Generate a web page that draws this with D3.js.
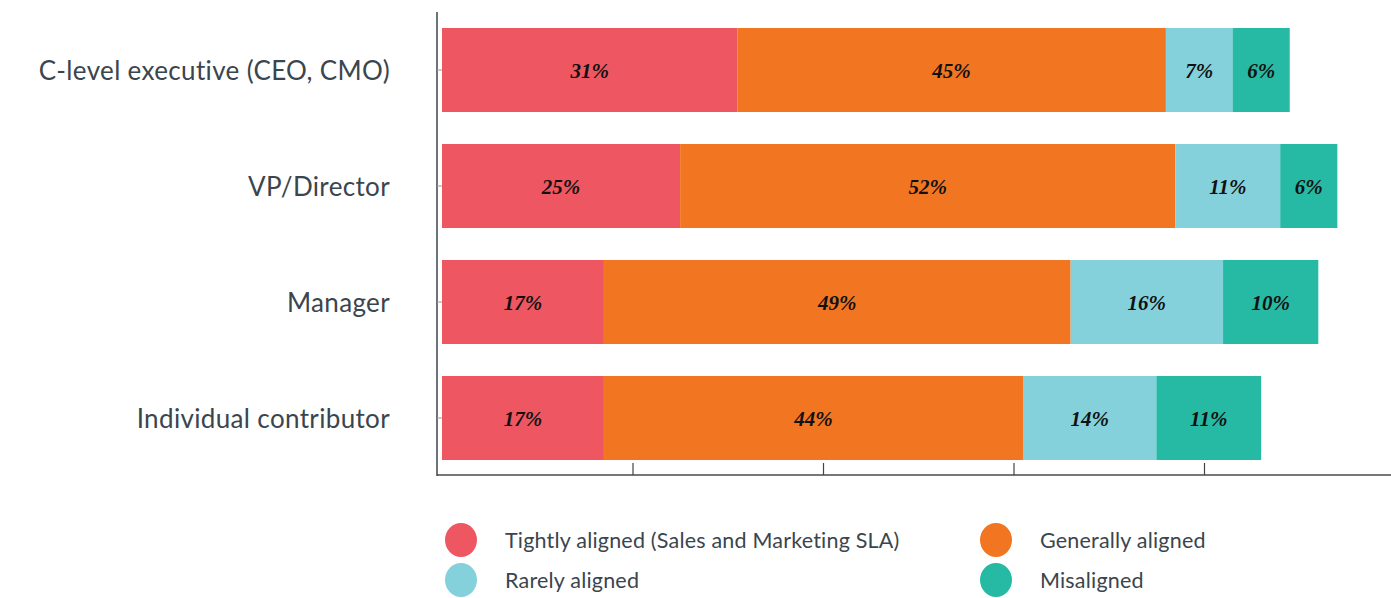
<!DOCTYPE html>
<html>
<head>
<meta charset="utf-8">
<script src="https://cdn.jsdelivr.net/npm/d3@7"></script>
<style>
  body { margin: 0; background: #fff; }
  svg { display: block; }
</style>
</head>
<body>
<svg id="chart" width="1391" height="598"></svg>
<script>
// roles, top to bottom
const roles = ['C-level executive (CEO, CMO)', 'VP/Director', 'Manager', 'Individual contributor']
const seriesNames = ['Tightly aligned (Sales and Marketing SLA)', 'Generally aligned', 'Rarely aligned', 'Misaligned']
const seriesColors = ['#ee5762', '#f27522', '#85d1db', '#26baa4']
// values in percent, one array per series (same order as roles)
const tightly = [31, 25, 17, 17]
const generally = [45, 52, 49, 44]
const rarely = [7, 11, 16, 14]
const misaligned = [6, 6, 10, 11]
const xTicks = [20, 40, 60, 80]

const series = [tightly, generally, rarely, misaligned]
const rows = roles.map((r, i) => {
  const o = { role: r }
  seriesNames.forEach((s, j) => { o[s] = series[j][i] })
  return o
})
const stacked = d3.stack().keys(seriesNames)(rows)

const svg = d3.select('#chart')
const axisLeftX = 437
const x = d3.scaleLinear().domain([0, 100]).range([442, 1394.5])
const y = d3.scaleBand().domain(roles).range([12, 476])
  .paddingInner(0.276).paddingOuter(0.138)

const textColor = '#3a454e'

// bars
const layer = svg.append('g')
  .selectAll('g')
  .data(stacked)
  .join('g')
  .attr('fill', (d, i) => seriesColors[i])

layer.selectAll('rect')
  .data(d => d)
  .join('rect')
  .attr('x', d => x(d[0]))
  .attr('y', d => y(d.data.role))
  .attr('width', d => x(d[1]) - x(d[0]))
  .attr('height', y.bandwidth())

// value labels
layer.selectAll('text')
  .data(d => d)
  .join('text')
  .attr('x', d => (x(d[0]) + x(d[1])) / 2)
  .attr('y', d => y(d.data.role) + y.bandwidth() / 2 + 8)
  .attr('text-anchor', 'middle')
  .attr('fill', '#111')
  .style('font-family', '"Liberation Serif", "Times New Roman", serif')
  .style('font-weight', 'bold')
  .style('font-style', 'italic')
  .style('font-size', '21px')
  .text(d => (d[1] - d[0]) + '%')

// bottom axis, ticks pointing up, no labels
const xAxis = d3.axisBottom(x)
  .tickValues(xTicks)
  .tickSizeInner(-12)
  .tickSizeOuter(0)
  .tickFormat('')

const gx = svg.append('g')
  .attr('transform', 'translate(0, 475)')
  .call(xAxis)
gx.select('.domain')
  .attr('d', `M${axisLeftX},0H1391`)
  .attr('stroke', '#777')
  .attr('stroke-width', 2)
gx.selectAll('.tick line').attr('stroke', '#444').attr('stroke-width', 1.2)

// left axis: line plus short ticks to the right at each role
const yAxis = d3.axisRight(y)
  .tickSizeInner(5)
  .tickSizeOuter(0)
  .tickFormat('')

const gy = svg.append('g')
  .attr('transform', `translate(${axisLeftX}, 0)`)
  .call(yAxis)
gy.select('.domain')
  .attr('d', 'M0,12V476')
  .attr('stroke', '#3c4449')
  .attr('stroke-width', 1.5)
gy.selectAll('.tick line').attr('stroke', '#999')

// role labels
svg.append('g')
  .selectAll('text')
  .data(roles)
  .join('text')
  .attr('x', 390)
  .attr('y', d => y(d) + y.bandwidth() / 2 + 10)
  .attr('text-anchor', 'end')
  .attr('fill', textColor)
  .style('font-family', 'Lato, "Noto Sans", sans-serif')
  .style('font-weight', 400)
  .style('font-size', '26px')
  .style('letter-spacing', '0.35px')
  .text(d => d)

// legend, two columns
const legendPos = [[461, 540], [996, 540], [461, 580], [996, 580]]
const legend = svg.append('g')
  .selectAll('g')
  .data(seriesNames)
  .join('g')
  .attr('transform', (d, i) => `translate(${legendPos[i][0]}, ${legendPos[i][1]})`)

legend.append('ellipse')
  .attr('rx', 16)
  .attr('ry', 17)
  .attr('fill', (d, i) => seriesColors[i])

legend.append('text')
  .attr('x', 44)
  .attr('y', 8)
  .attr('fill', textColor)
  .style('font-family', 'Lato, "Noto Sans", sans-serif')
  .style('font-weight', 400)
  .style('font-size', '21.5px')
  .style('letter-spacing', '0.2px')
  .text(d => d)
</script>
</body>
</html>
